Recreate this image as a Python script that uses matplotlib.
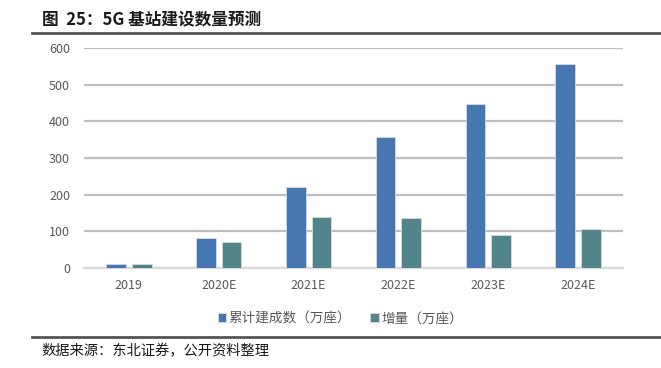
import numpy as np
import matplotlib.pyplot as plt
from matplotlib.lines import Line2D

plt.rcParams['font.family'] = ['Noto Sans CJK SC', 'DejaVu Sans']

years = ['2019', '2020E', '2021E', '2022E', '2023E', '2024E']
total = [11, 82, 221, 358, 448, 555]      # 累计建成数（万座）
added = [11, 70, 140, 136, 90, 107]       # 增量（万座）

fig = plt.figure(figsize=(6.61, 3.68), dpi=100)
ax = fig.add_axes([0.127, 0.2717, 0.8155, 0.598])

x = np.arange(len(years))
w = 0.22
ax.bar(x - 0.143, total, w, color='#4677B1', edgecolor='#D9D9D9', linewidth=0.6,
       label='累计建成数（万座）', zorder=3)
ax.bar(x + 0.143, added, w, color='#52848B', edgecolor='#D9D9D9', linewidth=0.6,
       label='增量（万座）', zorder=3)

ax.set_xlim(-0.5, len(years) - 0.5)
ax.set_ylim(0, 600)
ax.set_yticks(range(0, 601, 100))
ax.yaxis.grid(True, color='#BFBFBF', linewidth=1.6, zorder=0)
ax.set_xticks(x)
ax.set_xticklabels(years)
ax.tick_params(axis='both', length=0, labelsize=9, labelcolor='#595959')
ax.tick_params(axis='x', pad=8)
ax.tick_params(axis='y', pad=10)
for s in ['top', 'right', 'left']:
    ax.spines[s].set_visible(False)
ax.spines['bottom'].set_color('#D9D9D9')
ax.spines['bottom'].set_linewidth(1.6)

leg = fig.legend(loc='center', bbox_to_anchor=(0.515, 0.135), ncol=2, frameon=False,
                 fontsize=9.8, handlelength=0.6, handleheight=0.6, handletextpad=0.2,
                 columnspacing=1.4)
for t in leg.get_texts():
    t.set_color('#595959')

fig.text(0.063, 0.948, '图  25：5G 基站建设数量预测', fontsize=12, fontweight='bold',
         va='center', ha='left', color='#1a1a1a')
fig.add_artist(Line2D([0.048, 1.0], [0.91, 0.91], color='#555555', linewidth=2))
fig.add_artist(Line2D([0.048, 1.0], [0.084, 0.084], color='#555555', linewidth=2))
fig.text(0.063, 0.045, '数据来源：东北证券，公开资料整理', fontsize=10.3,
         va='center', ha='left', color='#1a1a1a')

fig.savefig('out.png', dpi=100)
